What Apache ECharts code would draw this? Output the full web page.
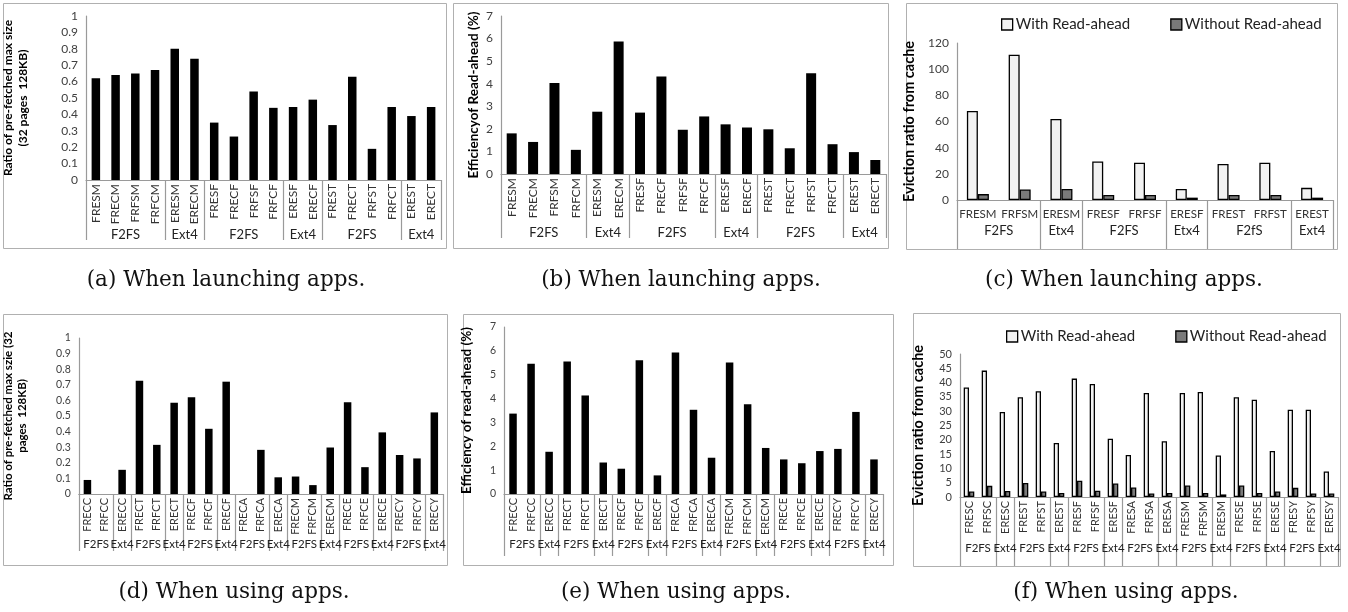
<!DOCTYPE html>
<html>
<head>
<meta charset="utf-8">
<script src="https://cdn.jsdelivr.net/npm/echarts@6/dist/echarts.min.js"></script>
<style>
html,body{margin:0;padding:0;background:#fff;}
#chart{width:1348px;height:612px;}
</style>
</head>
<body>
<div id="chart"></div>
<script>
// ---------------- DATA ----------------
const catsA = ['FRESM','FRECM','FRFSM','FRFCM','ERESM','ERECM','FRESF','FRECF','FRFSF','FRFCF','ERESF','ERECF','FREST','FRECT','FRFST','FRFCT','EREST','ERECT'];
const groupNamesA = ['F2FS','Ext4','F2FS','Ext4','F2FS','Ext4'];
const groupSizesA = [4,2,4,2,4,2];
const valsA = [0.62,0.64,0.65,0.67,0.80,0.74,0.35,0.265,0.54,0.44,0.445,0.49,0.335,0.63,0.19,0.445,0.39,0.445];

const catsB = ['FRESM','FRECM','FRFSM','FRFCM','ERESM','ERECM','FRESF','FRECF','FRFSF','FRFCF','ERESF','ERECF','FREST','FRECT','FRFST','FRFCT','EREST','ERECT'];
const groupNamesB = ['F2FS','Ext4','F2FS','Ext4','F2FS','Ext4'];
const groupSizesB = [4,2,4,2,4,2];
const valsB = [1.8,1.42,4.03,1.07,2.76,5.87,2.72,4.32,1.96,2.55,2.2,2.06,1.98,1.14,4.46,1.32,0.97,0.62];

const catsC = ['FRESM','FRFSM','ERESM','FRESF','FRFSF','ERESF','FREST','FRFST','EREST'];
const groupNamesC = ['F2FS','Etx4','F2FS','Etx4','F2fS','Ext4'];
const groupSizesC = [2,1,2,1,2,1];
const withC = [68,111,62,29.5,28.5,8.5,27.5,28.5,9.3];
const withoutC = [4.5,8,8.5,3.8,3.8,1.8,3.8,3.8,1.8];

const catsD = ['FRECC','FRFCC','ERECC','FRECT','FRFCT','ERECT','FRECF','FRFCF','ERECF','FRECA','FRFCA','ERECA','FRECM','FRFCM','ERECM','FRECE','FRFCE','ERECE','FRECY','FRFCY','ERECY'];
const groupNamesD = ['F2FS','Ext4','F2FS','Ext4','F2FS','Ext4','F2FS','Ext4','F2FS','Ext4','F2FS','Ext4','F2FS','Ext4'];
const groupSizesD = [2,1,2,1,2,1,2,1,2,1,2,1,2,1];
const valsD = [0.09,0,0.155,0.726,0.315,0.585,0.62,0.418,0.72,0,0.283,0.107,0.112,0.057,0.298,0.588,0.172,0.395,0.25,0.228,0.523];

const catsE = ['FRECC','FRFCC','ERECC','FRECT','FRFCT','ERECT','FRECF','FRFCF','ERECF','FRECA','FRFCA','ERECA','FRECM','FRFCM','ERECM','FRECE','FRFCE','ERECE','FRECY','FRFCY','ERECY'];
const groupNamesE = ['F2FS','Ext4','F2FS','Ext4','F2FS','Ext4','F2FS','Ext4','F2FS','Ext4','F2FS','Ext4','F2FS','Ext4'];
const groupSizesE = [2,1,2,1,2,1,2,1,2,1,2,1,2,1];
const valsE = [3.37,5.46,1.77,5.55,4.13,1.32,1.06,5.61,0.78,5.93,3.53,1.52,5.51,3.76,1.93,1.45,1.29,1.8,1.89,3.44,1.45];

const catsF = ['FRESC','FRFSC','ERESC','FREST','FRFST','EREST','FRESF','FRFSF','ERESF','FRESA','FRFSA','ERESA','FRESM','FRFSM','ERESM','FRESE','FRFSE','ERESE','FRESY','FRFSY','ERESY'];
const groupNamesF = ['F2FS','Ext4','F2FS','Ext4','F2FS','Ext4','F2FS','Ext4','F2FS','Ext4','F2FS','Ext4','F2FS','Ext4'];
const groupSizesF = [2,1,2,1,2,1,2,1,2,1,2,1,2,1];
const withF = [38.3,44.2,29.7,34.9,37,18.9,41.4,39.5,20.4,14.7,36.4,19.5,36.4,36.7,14.5,34.9,34,16.1,30.5,30.5,8.9];
const withoutF = [1.9,3.9,2.1,4.9,1.9,1.4,5.7,2.2,4.7,3.3,1.2,1.4,4,1.4,0.9,4,1.4,1.9,3.2,1.2,1.2];

const yTitles = {
  a: 'Ratio of pre-fetched max size\n(32 pages  128KB)',
  b: 'Efficiencyof Read-ahead (%)',
  c: 'Eviction ratio from cache',
  d: 'Ratio of pre-fetched max szie (32\npages  128KB)',
  e: 'Efficiency of read-ahead (%)',
  f: 'Eviction ratio from cache'
};
const captions = ['(a) When launching apps.','(b) When launching apps.','(c) When launching apps.','(d) When using apps.','(e) When using apps.','(f) When using apps.'];
const legendNames = ['With Read-ahead','Without Read-ahead'];

// ---------------- LAYOUT ----------------
const FONT = 'Lato, "Liberation Sans", sans-serif';
const AXIS_GRAY = '#9a9a9a';
const panels = [
  {key:'a', cats:catsA, gn:groupNamesA, gs:groupSizesA, series:[valsA], max:1, interval:0.1,
   box:[3,3,443,245], grid:[81,16,441,180], tick:60, gMargin:48, nameGap:55, nameSize:12, rotate:90, barWidth:8.5, ySize:12, cSize:12, gSize:13},
  {key:'b', cats:catsB, gn:groupNamesB, gs:groupSizesB, series:[valsB], max:7, interval:1,
   box:[453,3,435,245], grid:[501,16,886,174], tick:64, gMargin:52, nameGap:19, nameSize:13.5, rotate:90, barWidth:10, ySize:12, cSize:12, gSize:13},
  {key:'c', cats:catsC, gn:groupNamesC, gs:groupSizesC, series:[withC, withoutC], max:120, interval:20,
   box:[906,3,431,246], grid:[957,43,1333,200], tick:49, gMargin:24, nameGap:39, nameSize:14.5, rotate:0, barWidth:11, ySize:12, cSize:11.5, gSize:13,
   legend:{left:1001, top:17, gap:40, size:15}},
  {key:'d', cats:catsD, gn:groupNamesD, gs:groupSizesD, series:[valsD], max:1, interval:0.1,
   box:[3,314,444,251], grid:[73,338,443,494], tick:57, gMargin:44, nameGap:49, nameSize:11.5, rotate:90, barWidth:7.5, ySize:10.5, cSize:11, gSize:11.5},
  {key:'e', cats:catsE, gn:groupNamesE, gs:groupSizesE, series:[valsE], max:7, interval:1,
   box:[463,314,430,251], grid:[504,327,883,494], tick:62, gMargin:44, nameGap:29, nameSize:13.5, rotate:90, barWidth:7.5, ySize:10.5, cSize:11, gSize:11.5},
  {key:'f', cats:catsF, gn:groupNamesF, gs:groupSizesF, series:[withF, withoutF], max:50, interval:5,
   box:[913,313,427,253], grid:[960,354,1338,497], tick:69, gMargin:45, nameGap:33, nameSize:14.5, rotate:90, barWidth:5.3, ySize:11, cSize:11, gSize:11.5,
   legend:{left:1006, top:329, gap:40, size:15}}
];
const captionPos = [[226,269],[681,269],[1124,269],[234,581],[676,581],[1126,581]];

// ---------------- BUILD ----------------
const option = {
  backgroundColor:'#fff',
  animation:false,
  textStyle:{fontFamily:FONT},
  grid:[], xAxis:[], yAxis:[], series:[], legend:[], title:[], graphic:[]
};

panels.forEach((p, i) => {
  const [gl, gt, gr, gb] = p.grid;
  option.grid.push({left:gl, top:gt, width:gr-gl, height:gb-gt, containLabel:false});
  const starts = new Set();
  let s = 0;
  const N = p.cats.length;
  const groupLabelMap = {};
  p.gs.forEach((n, k) => { starts.add(s); groupLabelMap[2*s + n] = p.gn[k]; s += n; });
  const halfSlots = [];
  for (let k = 0; k <= 2*N; k++) halfSlots.push(String(k));

  option.xAxis.push({
    type:'category', gridIndex:i, data:p.cats, position:'bottom',
    axisLine:{show:true, lineStyle:{color:AXIS_GRAY, width:1.2}},
    axisTick:{show:true, interval:(idx) => starts.has(idx), length:p.tick, inside:false, lineStyle:{color:AXIS_GRAY, width:1.2}},
    axisLabel:{interval:0, rotate:p.rotate, fontSize:p.cSize, color:'#333', margin:p.rotate ? 4 : 8, fontFamily:FONT},
    splitLine:{show:false}
  });
  option.xAxis.push({
    type:'category', gridIndex:i, data:halfSlots, position:'bottom', boundaryGap:false,
    axisLine:{show:false}, axisTick:{show:false}, splitLine:{show:false},
    axisLabel:{interval:0, margin:p.gMargin, fontSize:p.gSize, color:'#222', fontFamily:FONT,
      formatter:(v, idx) => groupLabelMap[idx] || ''}
  });
  option.yAxis.push({
    type:'value', gridIndex:i, min:0, max:p.max, interval:p.interval,
    name:yTitles[p.key], nameLocation:'middle', nameGap:p.nameGap,
    nameTextStyle:{fontWeight:'bold', fontSize:p.nameSize, color:'#000', fontFamily:FONT, lineHeight:p.nameSize*1.25},
    axisLine:{show:true, lineStyle:{color:AXIS_GRAY, width:1.2}},
    axisTick:{show:false}, splitLine:{show:false},
    axisLabel:{fontSize:p.ySize, color:'#404040', margin:8, fontFamily:FONT}
  });
  if (p.series.length === 1) {
    option.series.push({
      type:'bar', xAxisIndex:2*i, yAxisIndex:i, data:p.series[0], barWidth:p.barWidth,
      itemStyle:{color:'#000'}, silent:true
    });
  } else {
    option.series.push({
      name:legendNames[0], type:'bar', xAxisIndex:2*i, yAxisIndex:i, data:p.series[0], barWidth:p.barWidth, barGap:'0%',
      itemStyle:{color:'#f2f2f2', borderColor:'#000', borderWidth:1.3}, silent:true
    });
    option.series.push({
      name:legendNames[1], type:'bar', xAxisIndex:2*i, yAxisIndex:i, data:p.series[1], barWidth:p.barWidth, barGap:'0%',
      itemStyle:{color:'#7a7a7a', borderColor:'#000', borderWidth:1.3}, silent:true
    });
    option.legend.push({
      data:legendNames, left:p.legend.left, top:p.legend.top, itemGap:p.legend.gap, padding:0,
      icon:'rect', itemWidth:11, itemHeight:11, itemStyle:{borderColor:'#000', borderWidth:1.3},
      textStyle:{fontSize:p.legend.size, color:'#222', fontFamily:FONT, padding:[0,0,0,-2]}, selectedMode:false
    });
  }
  const [bx, by, bw, bh] = p.box;
  option.graphic.push({type:'rect', silent:true, z:-1, shape:{x:bx+0.5, y:by+0.5, width:bw, height:bh},
    style:{fill:'none', stroke:'#b0b0b0', lineWidth:1}});
});

captions.forEach((c, i) => {
  option.title.push({text:c, left:captionPos[i][0], top:captionPos[i][1], textAlign:'center', padding:0,
    textStyle:{fontFamily:'"DejaVu Serif", "Liberation Serif", serif', fontWeight:'normal', fontSize:21.5, color:'#111'}});
});

const chart = echarts.init(document.getElementById('chart'), null, {renderer:'canvas'});
chart.setOption(option);
</script>
</body>
</html>
